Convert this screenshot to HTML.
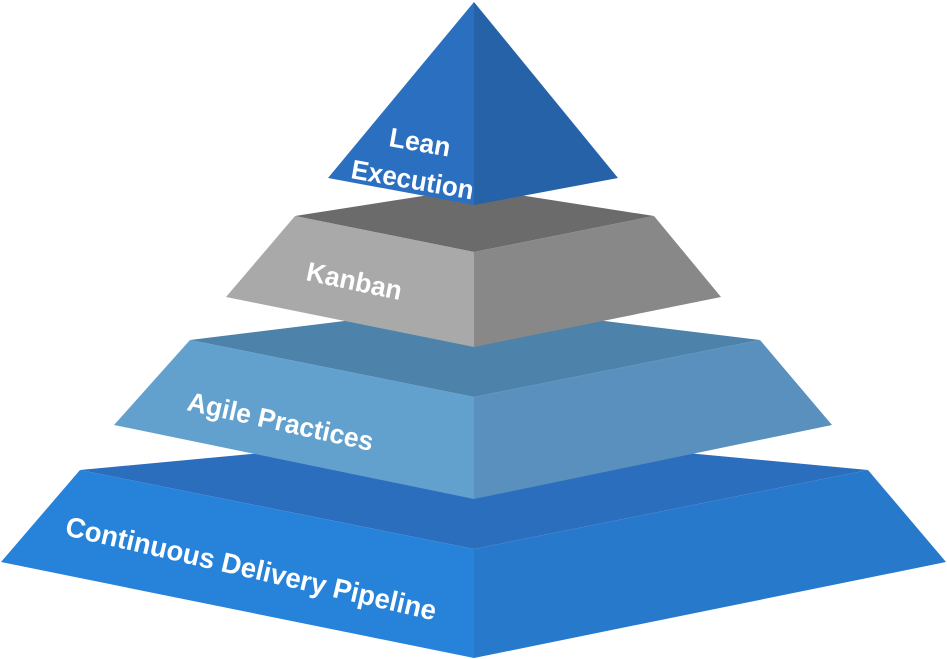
<!DOCTYPE html>
<html><head><meta charset="utf-8"><style>
html,body{margin:0;padding:0;background:#fff;width:947px;height:659px;overflow:hidden}
text{font-family:"Liberation Sans",Arial,sans-serif;font-weight:bold;fill:#fff}
</style></head><body>
<svg width="947" height="659" viewBox="0 0 947 659" xmlns="http://www.w3.org/2000/svg">
<polygon points="80,470 474,433 868,470 474,549" fill="#2c6ebe"/>
<polygon points="80,470 474,549 474,658 1,562" fill="#2783d9"/>
<polygon points="868,470 946,562 474,658 474,549" fill="#277acb"/>
<polygon points="190,340 474,305 760,340 474,397" fill="#4d82ab"/>
<polygon points="190,340 474,397 474,499 114,425" fill="#62a1cd"/>
<polygon points="760,340 832,425 474,499 474,397" fill="#5990bd"/>
<polygon points="295,216 474,188 654,216 474,252" fill="#6b6b6b"/>
<polygon points="295,216 474,252 474,347 226,297" fill="#a9a9a9"/>
<polygon points="654,216 721,297 474,347 474,252" fill="#888888"/>
<polygon points="474,2 328,178 474,205" fill="#2b6fc0"/>
<polygon points="474,2 618,178 474,205" fill="#2562a8"/>
<text transform="translate(388,146) rotate(10) scale(0.98,1)" font-size="27">Lean</text>
<text transform="translate(350,178) rotate(10) scale(0.96,1)" font-size="27">Execution</text>
<text transform="translate(305,280) rotate(12) scale(0.98,1)" font-size="27">Kanban</text>
<text transform="translate(186,410) rotate(12.5) scale(0.98,1)" font-size="27">Agile Practices</text>
<text transform="translate(64,535) rotate(13) scale(0.98,1)" font-size="28">Continuous Delivery Pipeline</text>
</svg>
</body></html>
